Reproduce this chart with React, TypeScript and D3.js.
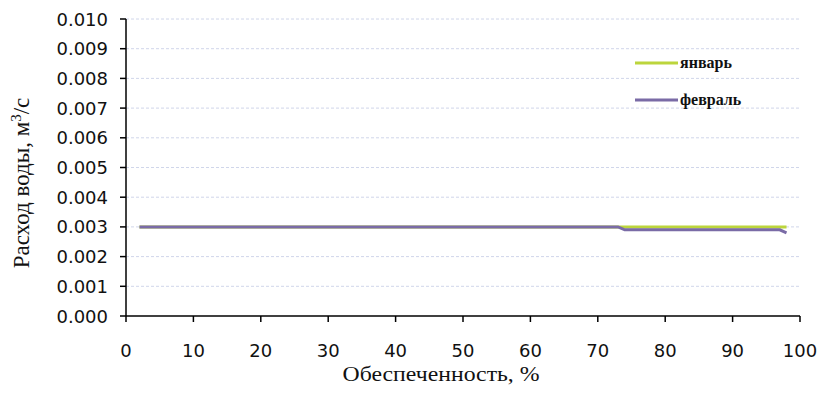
import React from "react";
import * as d3 from "d3";

const janX = [2, 73, 74, 98];
const janY = [0.003, 0.003, 0.003, 0.003];
const febX = [2, 73, 74, 97, 98];
const febY = [0.003, 0.003, 0.0029, 0.0029, 0.0028];
const yTicks = [0, 0.001, 0.002, 0.003, 0.004, 0.005, 0.006, 0.007, 0.008, 0.009, 0.01];
const xTicks = [0, 10, 20, 30, 40, 50, 60, 70, 80, 90, 100];
const seriesNames = ["январь", "февраль"];
const colors = ["#bcd53c", "#7a6ba6"];

export default function App() {
  const W = 829, H = 396;
  const x = d3.scaleLinear().domain([0, 100]).range([126, 800]);
  const y = d3.scaleLinear().domain([0, 0.01]).range([316, 19]);
  const line = d3.line<[number, number]>().x(d => x(d[0])).y(d => y(d[1]));
  const jan = janX.map((v, i) => [v, janY[i]] as [number, number]);
  const feb = febX.map((v, i) => [v, febY[i]] as [number, number]);
  const tickFont = "'DejaVu Sans', Verdana, sans-serif";
  const serif = "'Liberation Serif', 'Times New Roman', serif";
  return (
    <svg width={W} height={H} style={{ position: "absolute", left: 0, top: 0, background: "#fff" }}>
      {yTicks.slice(1).map(t => (
        <line key={"g" + t} x1={x(0)} x2={x(100)} y1={y(t)} y2={y(t)} stroke="#d0d6ea" strokeWidth={1} strokeDasharray="3,2" />
      ))}
      <path d={line(jan) || ""} fill="none" stroke={colors[0]} strokeWidth={3} />
      <path d={line(feb) || ""} fill="none" stroke={colors[1]} strokeWidth={3} />
      <line x1={x(0)} x2={x(0)} y1={y(0)} y2={y(0.01)} stroke="#000" strokeWidth={1.5} />
      <line x1={x(0)} x2={x(100)} y1={y(0)} y2={y(0)} stroke="#000" strokeWidth={1.5} />
      {yTicks.map(t => (
        <g key={"y" + t}>
          <line x1={x(0) - 6} x2={x(0)} y1={y(t)} y2={y(t)} stroke="#000" strokeWidth={1.5} />
          <text x={108} y={y(t) + 6.5} textAnchor="end" fontFamily={tickFont} fontSize={18} fill="#111">{d3.format(".3f")(t)}</text>
        </g>
      ))}
      {xTicks.map(t => (
        <g key={"x" + t}>
          <line x1={x(t)} x2={x(t)} y1={y(0)} y2={y(0) + 6} stroke="#000" strokeWidth={1.5} />
          <text x={x(t)} y={357} textAnchor="middle" fontFamily={tickFont} fontSize={18} fill="#111">{t}</text>
        </g>
      ))}
      <text x={441} y={381} textAnchor="middle" fontFamily={serif} fontSize={21} fill="#111" textLength={197} lengthAdjust="spacingAndGlyphs">Обеспеченность, %</text>
      <text transform="translate(29,183) rotate(-90)" textAnchor="middle" fontFamily={serif} fontSize={23} fill="#111">
        Расход воды, м<tspan dy={-8} fontSize={15}>3</tspan><tspan dy={8}>/с</tspan>
      </text>
      {seriesNames.map((n, i) => (
        <g key={n}>
          <line x1={635} x2={678} y1={63 + i * 37} y2={63 + i * 37} stroke={colors[i]} strokeWidth={3} />
          <text x={680} y={68 + i * 37} fontFamily={serif} fontSize={16} fontWeight="bold" fill="#111">{n}</text>
        </g>
      ))}
    </svg>
  );
}
